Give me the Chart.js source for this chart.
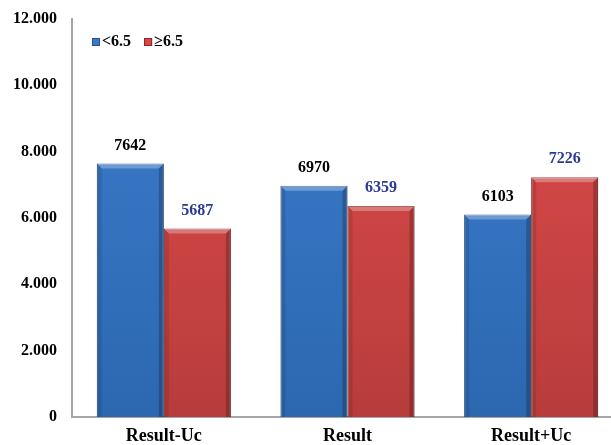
<!DOCTYPE html>
<html>
<head>
<meta charset="utf-8">
<script src="https://cdn.jsdelivr.net/npm/chart.js@4.4.1/dist/chart.umd.min.js"></script>
<style>
  html, body { margin: 0; padding: 0; background: #ffffff; overflow: hidden; }
  #wrap { position: relative; width: 623px; height: 445px; }
</style>
</head>
<body>
<div id="wrap"><canvas id="chart"></canvas></div>
<script>
// Categories and series
const categories = ['Result-Uc', 'Result', 'Result+Uc'];
const seriesNames = ['<6.5', '\u22656.5'];
const belowValues = [7642, 6970, 6103];
const aboveValues = [5687, 6359, 7226];
const yTicks = [0, 2000, 4000, 6000, 8000, 10000, 12000];

const FONT = '"Liberation Serif", "Times New Roman", serif';

function fmtThousands(v) {
  return String(v).replace(/\B(?=(\d{3})+(?!\d))/g, '.');
}

function makeFill(light, dark) {
  return function (c) {
    const chart = c.chart;
    const area = chart.chartArea;
    if (!area) return light;
    const g = chart.ctx.createLinearGradient(0, area.top, 0, area.bottom);
    g.addColorStop(0, light);
    g.addColorStop(1, dark);
    return g;
  };
}

// Bevel edges on each bar
const bevelPlugin = {
  id: 'bevel',
  afterDatasetsDraw(chart) {
    const ctx = chart.ctx;
    chart.data.datasets.forEach((ds, i) => {
      const meta = chart.getDatasetMeta(i);
      meta.data.forEach(bar => {
        const half = bar.width / 2;
        const l = bar.x - half, r = bar.x + half, t = bar.y, b = bar.base;
        const e = 5;
        ctx.save();
        // top highlight
        ctx.fillStyle = 'rgba(255,255,255,0.28)';
        ctx.beginPath();
        ctx.moveTo(l, t); ctx.lineTo(r, t); ctx.lineTo(r - e, t + e); ctx.lineTo(l + e, t + e); ctx.closePath();
        ctx.fill();
        // left shade
        ctx.fillStyle = 'rgba(0,0,0,0.10)';
        ctx.beginPath();
        ctx.moveTo(l, t); ctx.lineTo(l + e, t + e); ctx.lineTo(l + e, b); ctx.lineTo(l, b); ctx.closePath();
        ctx.fill();
        // right shade
        ctx.fillStyle = 'rgba(0,0,0,0.22)';
        ctx.beginPath();
        ctx.moveTo(r, t); ctx.lineTo(r - e, t + e); ctx.lineTo(r - e, b); ctx.lineTo(r, b); ctx.closePath();
        ctx.fill();
        ctx.restore();
      });
    });
  }
};

// Value labels above bars
const valueLabels = {
  id: 'valueLabels',
  afterDatasetsDraw(chart) {
    const ctx = chart.ctx;
    ctx.save();
    ctx.font = 'bold 16px ' + FONT;
    ctx.textAlign = 'center';
    ctx.textBaseline = 'middle';
    chart.data.datasets.forEach((ds, i) => {
      const meta = chart.getDatasetMeta(i);
      ctx.fillStyle = ds.labelColor;
      meta.data.forEach((bar, j) => {
        ctx.fillText(String(ds.data[j]), bar.x, bar.y - 18);
      });
    });
    ctx.restore();
  }
};

// Legend drawn inside the plot at the top left
const innerLegend = {
  id: 'innerLegend',
  afterDraw(chart) {
    const ctx = chart.ctx;
    ctx.save();
    ctx.font = 'bold 16px ' + FONT;
    ctx.textBaseline = 'middle';
    let x = 92;
    const y = 42;
    chart.data.datasets.forEach(ds => {
      ctx.fillStyle = ds.legendColor;
      ctx.fillRect(x, y - 4, 8, 8);
      ctx.strokeStyle = ds.legendEdge;
      ctx.lineWidth = 1;
      ctx.strokeRect(x + 0.5, y - 3.5, 7, 7);
      x += 10;
      ctx.fillStyle = '#000000';
      ctx.fillText(ds.label, x, y);
      x += ctx.measureText(ds.label).width + 13;
    });
    ctx.restore();
  }
};

new Chart(document.getElementById('chart'), {
  type: 'bar',
  data: {
    labels: categories,
    datasets: [
      {
        label: seriesNames[0],
        data: belowValues,
        backgroundColor: makeFill('#3d7cce', '#2c68b0'),
        borderColor: '#23528c',
        borderWidth: 1,
        labelColor: '#000000',
        legendColor: '#3a78c8',
        legendEdge: '#23528c'
      },
      {
        label: seriesNames[1],
        data: aboveValues,
        backgroundColor: makeFill('#e04c4c', '#b83c3c'),
        borderColor: '#8a2626',
        borderWidth: 1,
        labelColor: '#2b3a96',
        legendColor: '#d84848',
        legendEdge: '#8a2626'
      }
    ]
  },
  options: {
    responsive: true,
    maintainAspectRatio: false,
    animation: false,
    layout: { padding: { top: 19, right: 0, bottom: 0, left: 0 } },
    plugins: { legend: { display: false }, tooltip: { enabled: false } },
    datasets: { bar: { categoryPercentage: 0.73, barPercentage: 1.0 } },
    scales: {
      x: {
        grid: { display: false, drawTicks: false },
        border: { color: '#a6a6a6', width: 2 },
        ticks: { color: '#000000', font: { family: FONT, size: 18, weight: 'bold' }, padding: 9 },
        afterFit(scale) { scale.height = 28; }
      },
      y: {
        min: 0,
        max: 12000,
        afterBuildTicks(scale) { scale.ticks = yTicks.map(v => ({ value: v })); },
        grid: { display: false, drawTicks: false },
        border: { color: '#a6a6a6', width: 2 },
        ticks: {
          color: '#000000',
          font: { family: FONT, size: 16, weight: 'bold' },
          padding: 15,
          callback: v => fmtThousands(v)
        },
        afterFit(scale) {
          scale.width = 72;
          scale.paddingTop = 0;
          scale.paddingBottom = 0;
        }
      }
    }
  },
  plugins: [bevelPlugin, valueLabels, innerLegend]
});
</script>
</body>
</html>
